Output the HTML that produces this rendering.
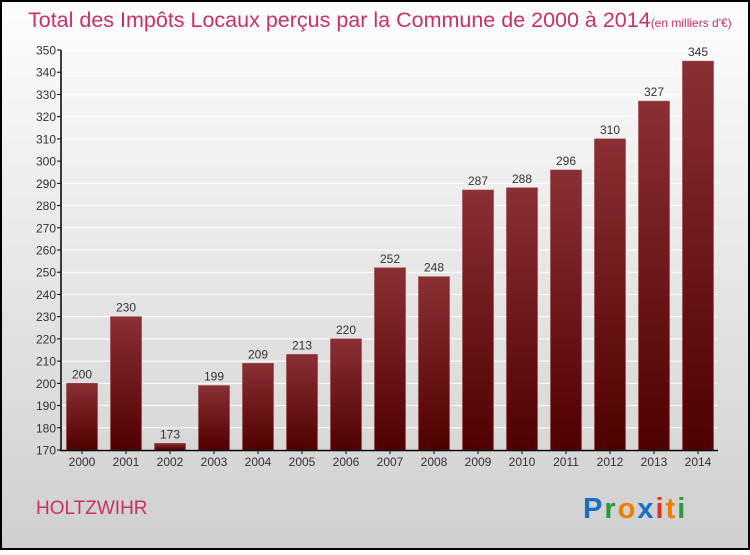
<!DOCTYPE html>
<html><head><meta charset="utf-8"><style>
body{margin:0;width:750px;height:550px;overflow:hidden;font-family:"Liberation Sans",sans-serif}
</style></head><body>
<svg id="c" width="750" height="550" xmlns="http://www.w3.org/2000/svg">
<defs>
<linearGradient id="bg" x1="0" y1="0" x2="0" y2="1"><stop offset="0" stop-color="#fdfdfd"/><stop offset="1" stop-color="#cfcfcf"/></linearGradient>
<linearGradient id="bar" x1="0" y1="0" x2="0" y2="1"><stop offset="0" stop-color="#8a3034"/><stop offset="1" stop-color="#500000"/></linearGradient>
</defs>
<rect x="1" y="1" width="748" height="548" fill="url(#bg)" stroke="#000" stroke-width="2"/>
<text x="28" y="27" font-size="21.5" fill="#c8306a">Total des Impôts Locaux perçus par la Commune de 2000 à 2014<tspan font-size="12">(en milliers d'€)</tspan></text>
<g id="grid"></g><g id="bars"></g><g id="axes"></g>
<text x="36" y="514" font-size="19" fill="#c8306a">HOLTZWIHR</text>
<text x="583" y="518" font-size="29" font-weight="bold" letter-spacing="2"><tspan fill="#1a6fc4">P</tspan><tspan fill="#2a9a3a">r</tspan><tspan fill="#f07d00">o</tspan><tspan fill="#1a6fc4">x</tspan><tspan fill="#e03020">i</tspan><tspan fill="#f07d00">t</tspan><tspan fill="#2a9a3a">i</tspan></text>
</svg>
<script>
const years=["2000","2001","2002","2003","2004","2005","2006","2007","2008","2009","2010","2011","2012","2013","2014"];
const values=[200,230,173,199,209,213,220,252,248,287,288,296,310,327,345];
const yTicks=[170,180,190,200,210,220,230,240,250,260,270,280,290,300,310,320,330,340,350];
const NS="http://www.w3.org/2000/svg";
const y=v=>450-(v-170)*400/180;
const x=i=>82+44*i;
function mk(t,a,p){const e=document.createElementNS(NS,t);for(const k in a)e.setAttribute(k,a[k]);p.appendChild(e);return e;}
const G=document.getElementById('grid'),B=document.getElementById('bars'),A=document.getElementById('axes');
yTicks.forEach(v=>{
 const l=mk('line',{x1:61,x2:718,y1:y(v),y2:y(v),stroke:'#fff','stroke-width':1},G);
 
 
 mk('line',{x1:57,x2:61,y1:y(v),y2:y(v),stroke:'#000'},A);
 const t=mk('text',{x:56,y:y(v)+4.5,'font-size':12,fill:'#333','text-anchor':'end'},A);t.textContent=v;
 
 
});
values.forEach((v,i)=>{
 const r=mk('rect',{x:x(i)-15.5,y:y(v),width:31,height:450-y(v),fill:'url(#bar)',stroke:'#a04048','stroke-width':0.6},B);
 
 
 const t=mk('text',{x:x(i),y:y(v)-5,'font-size':12,fill:'#333','text-anchor':'middle'},B);t.textContent=v;
 
 
 mk('line',{x1:x(i),x2:x(i),y1:450,y2:454,stroke:'#000'},A);
 const xl=mk('text',{x:x(i),y:466,'font-size':12,fill:'#333','text-anchor':'middle'},A);xl.textContent=years[i];
 
 
});
mk('line',{x1:61,x2:61,y1:50,y2:451,stroke:'#000','stroke-width':1.5},A);
mk('line',{x1:60,x2:718,y1:450.5,y2:450.5,stroke:'#000','stroke-width':1.5},A);
</script>
</body></html>
